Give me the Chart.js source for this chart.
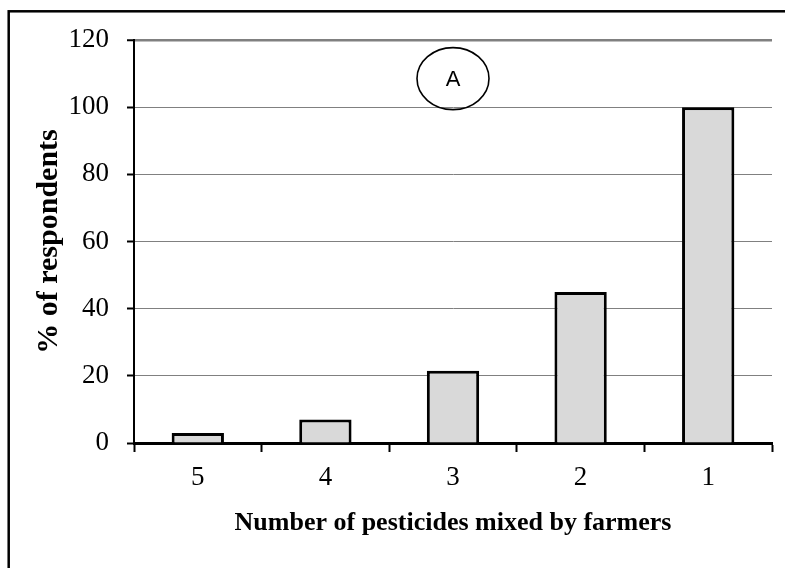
<!DOCTYPE html>
<html>
<head>
<meta charset="utf-8">
<script src="https://cdn.jsdelivr.net/npm/chart.js@4/dist/chart.umd.min.js"></script>
<style>
    html, body { margin: 0; padding: 0; background: #fff; }
    #wrap { width: 785px; height: 568px; }
</style>
</head>
<body>
<div id="wrap"><canvas id="pestChart" width="785" height="568"></canvas></div>
<script>
// Chart data
const categories = ['5', '4', '3', '2', '1'];
const respondents = [3, 7, 21.5, 45, 100];
const yTicks = [0, 20, 40, 60, 80, 100, 120];
const panelLabel = 'A';
const panelPos = { index: 2, value: 108.5 };

// Outer frame round the figure
const framePlugin = {
    id: 'frame',
    beforeDraw(chart) {
        const ctx = chart.ctx;
        ctx.save();
        ctx.fillStyle = '#fff';
        ctx.fillRect(0, 0, chart.width, chart.height);
        ctx.strokeStyle = '#000';
        ctx.lineWidth = 2.5;
        ctx.strokeRect(8.7, 11.3, 820, 620);
        ctx.restore();
    }
};

// Circled panel letter
const panelPlugin = {
    id: 'panel',
    afterDatasetsDraw(chart) {
        const ctx = chart.ctx;
        const x = chart.scales.x.getPixelForValue(panelPos.index);
        const y = chart.scales.y.getPixelForValue(panelPos.value);
        ctx.save();
        ctx.beginPath();
        ctx.ellipse(x, y, 36, 31, 0, 0, Math.PI * 2);
        ctx.strokeStyle = '#000';
        ctx.lineWidth = 1.6;
        ctx.stroke();
        ctx.fillStyle = '#000';
        ctx.font = '22px "Liberation Sans", Arial, sans-serif';
        ctx.textAlign = 'center';
        ctx.textBaseline = 'middle';
        ctx.fillText(panelLabel, x, y + 1);
        ctx.restore();
    }
};

const ctx = document.getElementById('pestChart').getContext('2d');
const pestChart = new Chart(ctx, {
    type: 'bar',
    data: {
        labels: categories,
        datasets: [{
            label: '% of respondents',
            data: respondents,
            backgroundColor: '#d9d9d9',
            borderColor: '#000',
            borderWidth: 3,
            barPercentage: 0.41,
            categoryPercentage: 1.0
        }]
    },
    options: {
        responsive: false,
        animation: false,
        layout: { padding: { top: 40, right: 13, left: 0, bottom: 0 } },
        plugins: {
            legend: { display: false },
            tooltip: { enabled: false }
        },
        scales: {
            x: {
                offset: true,
                afterFit(scale) { scale.height = 125; },
                grid: {
                    drawOnChartArea: false,
                    drawTicks: true,
                    tickLength: 9,
                    tickColor: '#000',
                    tickWidth: 2
                },
                border: { color: '#000', width: 3 },
                ticks: {
                    color: '#000',
                    padding: 10,
                    font: { family: '"Liberation Serif", "Times New Roman", serif', size: 27 }
                },
                title: {
                    display: true,
                    text: 'Number of pesticides mixed by farmers',
                    color: '#000',
                    padding: { top: 0, bottom: 29 },
                    font: { family: '"Liberation Serif", "Times New Roman", serif', size: 26, weight: 'bold' }
                }
            },
            y: {
                min: 0,
                max: 120,
                afterFit(scale) { scale.width = 134; },
                afterBuildTicks(scale) { scale.ticks = yTicks.map(v => ({ value: v })); },
                grid: {
                    color: '#808080',
                    lineWidth: c => (c.tick && c.tick.value === 120 ? 2.5 : 1),
                    tickLength: 7,
                    tickColor: '#000',
                    tickWidth: 2
                },
                border: { color: '#000', width: 2 },
                ticks: {
                    color: '#000',
                    padding: 18,
                    font: { family: '"Liberation Serif", "Times New Roman", serif', size: 27 }
                },
                title: {
                    display: true,
                    text: '% of respondents',
                    color: '#000',
                    padding: { top: 31, bottom: 0 },
                    font: { family: '"Liberation Serif", "Times New Roman", serif', size: 30, weight: 'bold' }
                }
            }
        }
    },
    plugins: [framePlugin, panelPlugin]
});
</script>
</body>
</html>
